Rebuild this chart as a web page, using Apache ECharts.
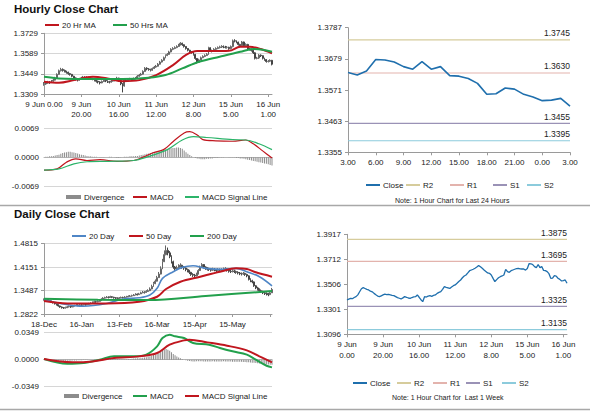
<!DOCTYPE html>
<html><head><meta charset="utf-8">
<script src="https://cdn.jsdelivr.net/npm/echarts@6/dist/echarts.min.js"></script>
<style>html,body{margin:0;padding:0;background:#fff}#c{width:600px;height:413px}</style>
</head><body><div id="c"></div>
<script>
// ---------- DATA ----------
// Hourly closes, 9 Jun 0.00 .. 16 Jun 3.00 (123 hours)
const hourlyClose = [
1.3378,1.3385,1.3391,1.3388,1.3398,1.3405,1.3420,1.3445,1.3470,1.3479,
1.3472,1.3465,1.3460,1.3450,1.3445,1.3432,1.3420,1.3410,1.3405,1.3412,
1.3419,1.3425,1.3422,1.3424,1.3420,1.3416,1.3413,1.3405,1.3397,1.3392,
1.3386,1.3395,1.3405,1.3400,1.3394,1.3391,1.3398,1.3403,1.3405,1.3419,
1.3400,1.3380,1.3364,1.3405,1.3402,1.3410,1.3413,1.3408,1.3415,1.3419,
1.3432,1.3440,1.3446,1.3465,1.3487,1.3482,1.3478,1.3473,1.3485,1.3495,
1.3501,1.3515,1.3530,1.3542,1.3560,1.3575,1.3583,1.3600,1.3618,1.3624,
1.3630,1.3638,1.3648,1.3660,1.3650,1.3638,1.3624,1.3612,1.3600,1.3597,
1.3583,1.3555,1.3528,1.3545,1.3560,1.3569,1.3575,1.3583,1.3629,1.3610,
1.3605,1.3618,1.3624,1.3630,1.3635,1.3638,1.3634,1.3632,
1.3632,1.3623,1.3637,1.3677,1.3675,1.3668,1.3652,1.3643,1.3669,1.3643,
1.3652,1.3621,1.3619,1.3611,1.3594,1.3556,1.3558,1.3578,1.3574,1.3556,
1.3547,1.3534,1.3536,1.3542,1.3515];
const hourlyHigh = [
1.3392,1.3394,1.3400,1.3399,1.3406,1.3414,1.3428,1.3452,1.3478,1.3490,
1.3486,1.3478,1.3470,1.3463,1.3455,1.3448,1.3435,1.3424,1.3415,1.3420,
1.3428,1.3434,1.3432,1.3433,1.3430,1.3425,1.3422,1.3416,1.3409,1.3402,
1.3397,1.3403,1.3412,1.3410,1.3404,1.3400,1.3406,1.3411,1.3414,1.3428,
1.3422,1.3404,1.3385,1.3412,1.3411,1.3418,1.3421,1.3418,1.3423,1.3427,
1.3440,1.3448,1.3455,1.3473,1.3495,1.3494,1.3488,1.3484,1.3492,1.3503,
1.3510,1.3523,1.3538,1.3550,1.3568,1.3583,1.3592,1.3608,1.3626,1.3633,
1.3639,1.3646,1.3656,1.3668,1.3664,1.3653,1.3640,1.3627,1.3615,1.3606,
1.3600,1.3586,1.3558,1.3553,1.3568,1.3577,1.3584,1.3592,1.3636,1.3632,
1.3616,1.3626,1.3632,1.3638,1.3643,1.3647,1.3645,1.3642,
1.3641,1.3636,1.3645,1.3686,1.3688,1.3680,1.3671,1.3657,1.3676,1.3672,
1.3660,1.3656,1.3628,1.3624,1.3614,1.3598,1.3566,1.3585,1.3583,1.3577,
1.3560,1.3550,1.3544,1.3549,1.3545];
const hourlyLow = [
1.3366,1.3372,1.3380,1.3379,1.3385,1.3394,1.3402,1.3418,1.3442,1.3465,
1.3464,1.3458,1.3450,1.3442,1.3436,1.3425,1.3412,1.3402,1.3396,1.3400,
1.3408,1.3415,1.3413,1.3414,1.3412,1.3408,1.3404,1.3396,1.3388,1.3382,
1.3375,1.3383,1.3392,1.3391,1.3385,1.3382,1.3388,1.3394,1.3396,1.3402,
1.3392,1.3370,1.3320,1.3360,1.3393,1.3398,1.3403,1.3400,1.3404,1.3409,
1.3416,1.3428,1.3435,1.3443,1.3462,1.3473,1.3470,1.3465,1.3470,1.3482,
1.3490,1.3498,1.3512,1.3527,1.3539,1.3556,1.3571,1.3580,1.3597,1.3612,
1.3619,1.3626,1.3634,1.3645,1.3642,1.3630,1.3616,1.3604,1.3592,1.3588,
1.3575,1.3546,1.3520,1.3525,1.3542,1.3557,1.3564,1.3572,1.3580,1.3602,
1.3597,1.3602,1.3613,1.3619,1.3624,1.3627,1.3626,1.3624,
1.3623,1.3615,1.3618,1.3632,1.3666,1.3660,1.3644,1.3635,1.3638,1.3635,
1.3637,1.3613,1.3610,1.3603,1.3586,1.3548,1.3549,1.3552,1.3565,1.3548,
1.3539,1.3526,1.3527,1.3530,1.3507];
const hourlyTickLabels = ['9 Jun 0.00','9 Jun\n20.00','10 Jun\n16.00','11 Jun\n12.00','12 Jun\n8.00','15 Jun\n5.00','16 Jun\n1.00'];
const weekTickLabels = ['9 Jun\n0.00','9 Jun\n20.00','10 Jun\n16.00','11 Jun\n12.00','12 Jun\n8.00','15 Jun\n5.00','16 Jun\n1.00'];
const last24Start = 98; // 15 Jun 3.00
const dayHourLabels = ['3.00','6.00','9.00','12.00','15.00','18.00','21.00','0.00','3.00'];

// moving averages / MACD as [hour index, value]
const hourlyMA20 = [[0,1.3394],[8,1.3387],[16,1.3405],[26,1.3428],[34,1.3417],[42,1.3398],[51,1.3405],[60,1.3440],[69,1.3509],[76,1.3579],[82,1.3606],[90,1.3606],[99,1.3608],[105,1.3636],[110,1.3636],[116,1.3620],[122,1.3590]];
const hourlyMA50 = [[0,1.3428],[8,1.3417],[24,1.3412],[42,1.3412],[56,1.3421],[65,1.3440],[74,1.3486],[83,1.3532],[94,1.3567],[105,1.3601],[112,1.3620],[117,1.3615],[122,1.3601]];
const hourlyMACD = [[0,-0.0031],[7,-0.0028],[12,-0.0012],[17,-0.0004],[23,-0.0008],[30,-0.0006],[39,-0.0010],[48,-0.0008],[53,0.0000],[58,0.0010],[64,0.0018],[69,0.0037],[75,0.0058],[78,0.0061],[82,0.0053],[85,0.0042],[92,0.0039],[101,0.0038],[108,0.0041],[112,0.0032],[117,0.0015],[122,-0.0002]];
const hourlySignal = [[0,-0.0031],[8,-0.0028],[16,-0.0016],[23,-0.0011],[35,-0.0010],[48,-0.0008],[55,0.0000],[66,0.0018],[74,0.0041],[80,0.0049],[87,0.0047],[101,0.0042],[108,0.0041],[115,0.0032],[122,0.0018]];
const hourlyDivergence = [
0.0000,0.0001,0.0001,0.0002,0.0002,0.0003,0.0004,0.0005,
0.0006,0.0008,0.0010,0.0011,0.0012,0.0013,0.0013,0.0012,0.0011,0.0010,0.0009,0.0007,0.0006,0.0005,0.0004,0.0003,
0.0002,0.0002,0.0001,0.0001,0.0001,0.0000,-0.0001,-0.0001,-0.0001,0.0000,0.0000,0.0001,0.0001,0.0000,-0.0001,-0.0002,-0.0002,-0.0001,0.0000,0.0001,0.0001,0.0001,0.0002,0.0002,0.0002,0.0003,0.0003,
0.0004,0.0005,0.0006,0.0007,0.0008,0.0009,0.0010,0.0011,0.0012,0.0013,0.0014,0.0015,0.0016,0.0017,0.0018,0.0019,0.0020,0.0021,0.0022,0.0022,0.0023,0.0023,0.0022,0.0020,0.0016,0.0012,
0.0008,0.0005,0.0002,0.0000,
-0.0002,-0.0003,-0.0004,-0.0005,-0.0005,-0.0005,-0.0004,-0.0004,-0.0003,-0.0003,-0.0002,-0.0002,-0.0002,-0.0001,-0.0001,-0.0001,0.0000,0.0000,-0.0001,-0.0001,-0.0001,
-0.0001,-0.0002,-0.0002,-0.0003,-0.0003,-0.0004,-0.0005,-0.0006,-0.0007,-0.0008,-0.0009,-0.0010,-0.0011,-0.0012,-0.0013,-0.0014,-0.0015,-0.0016,-0.0017,-0.0019,-0.0020];

// Daily closes, 18 Dec .. 16 Jun (128 days)
const dailyClose = [
1.3225,1.3238,1.3210,1.3195,1.3170,1.3140,1.3110,1.3085,1.3050,1.3020,
1.3000,1.2990,1.3000,1.3025,1.3035,1.3020,1.3040,1.3060,1.3075,1.3065,
1.3080,1.3070,1.3085,1.3080,1.3095,1.3110,1.3125,1.3150,1.3170,1.3165,
1.3180,1.3200,1.3240,1.3270,1.3285,1.3300,1.3290,1.3310,1.3295,1.3280,
1.3270,1.3265,1.3275,1.3290,1.3285,1.3300,1.3310,1.3320,1.3330,1.3340,
1.3360,1.3380,1.3370,1.3390,1.3420,1.3440,1.3430,1.3460,1.3480,1.3530,
1.3600,1.3680,1.3750,1.3850,1.3950,1.4100,1.4300,1.4500,1.4620,1.4550,
1.4450,1.4300,1.4150,1.4100,1.4130,1.4180,1.4200,1.4150,1.4120,1.4080,
1.4050,1.4000,1.3940,1.3920,1.3900,1.3950,1.4050,1.4150,1.4220,1.4150,
1.4110,1.4090,1.4080,1.4060,1.4090,1.4070,1.4050,1.4080,1.4060,1.4070,
1.4090,1.4100,1.4060,1.4030,1.4020,1.4040,1.4020,1.4000,1.3980,1.3960,
1.3950,1.3970,1.3940,1.3900,1.3800,1.3760,1.3730,1.3620,1.3560,1.3520,
1.3480,1.3460,1.3420,1.3400,1.3390,1.3370,1.3420,1.3514];
const dailyHigh = [
1.3262,1.3265,1.3245,1.3225,1.3208,1.3180,1.3150,1.3120,1.3095,1.3060,
1.3035,1.3020,1.3030,1.3050,1.3062,1.3052,1.3068,1.3085,1.3100,1.3095,
1.3105,1.3100,1.3112,1.3108,1.3120,1.3138,1.3152,1.3178,1.3198,1.3195,
1.3210,1.3230,1.3268,1.3298,1.3312,1.3330,1.3320,1.3338,1.3325,1.3310,
1.3298,1.3292,1.3300,1.3315,1.3312,1.3326,1.3336,1.3348,1.3358,1.3368,
1.3388,1.3410,1.3402,1.3420,1.3452,1.3472,1.3465,1.3495,1.3520,1.3575,
1.3650,1.3730,1.3800,1.3900,1.4010,1.4170,1.4380,1.4620,1.4760,1.4700,
1.4600,1.4480,1.4330,1.4180,1.4190,1.4230,1.4255,1.4215,1.4180,1.4140,
1.4105,1.4070,1.4015,1.3975,1.3955,1.3990,1.4090,1.4190,1.4260,1.4235,
1.4170,1.4145,1.4130,1.4110,1.4130,1.4120,1.4100,1.4120,1.4110,1.4115,
1.4135,1.4145,1.4120,1.4085,1.4065,1.4080,1.4070,1.4050,1.4030,1.4010,
1.3995,1.4010,1.3990,1.3960,1.3915,1.3830,1.3790,1.3745,1.3640,1.3590,
1.3545,1.3515,1.3480,1.3450,1.3435,1.3420,1.3465,1.3560];
const dailyLow = [
1.3200,1.3205,1.3190,1.3172,1.3150,1.3118,1.3090,1.3062,1.3030,1.2998,
1.2975,1.2965,1.2972,1.2990,1.3005,1.2995,1.3012,1.3030,1.3048,1.3040,
1.3052,1.3045,1.3058,1.3055,1.3068,1.3082,1.3098,1.3115,1.3140,1.3138,
1.3150,1.3168,1.3195,1.3230,1.3255,1.3268,1.3262,1.3280,1.3270,1.3255,
1.3245,1.3240,1.3248,1.3262,1.3260,1.3272,1.3285,1.3295,1.3304,1.3312,
1.3330,1.3350,1.3345,1.3360,1.3385,1.3410,1.3400,1.3425,1.3445,1.3470,
1.3520,1.3590,1.3665,1.3740,1.3840,1.3940,1.4090,1.4290,1.4480,1.4480,
1.4400,1.4250,1.4100,1.4040,1.4070,1.4110,1.4140,1.4100,1.4070,1.4030,
1.4000,1.3950,1.3900,1.3870,1.3855,1.3885,1.3940,1.4040,1.4130,1.4110,
1.4070,1.4050,1.4040,1.4020,1.4040,1.4030,1.4010,1.4030,1.4020,1.4025,
1.4040,1.4055,1.4020,1.3990,1.3980,1.3995,1.3980,1.3960,1.3940,1.3920,
1.3910,1.3925,1.3900,1.3860,1.3770,1.3720,1.3690,1.3590,1.3525,1.3485,
1.3445,1.3420,1.3385,1.3360,1.3345,1.3325,1.3355,1.3420];
const dailyTickLabels = ['18-Dec','16-Jan','13-Feb','16-Mar','15-Apr','15-May'];
const dailyMA20 = [[0,1.3232],[9,1.3122],[22,1.3042],[35,1.3120],[44,1.3245],[53,1.3280],[59,1.3358],[63,1.3547],[66,1.3830],[72,1.4018],[77,1.4140],[83,1.4188],[90,1.4112],[100,1.4084],[107,1.4112],[113,1.4018],[120,1.3877],[127,1.3620]];
const dailyMA50 = [[0,1.3188],[13,1.3122],[35,1.3122],[53,1.3170],[63,1.3310],[68,1.3528],[76,1.3735],[87,1.3877],[98,1.4018],[107,1.4112],[113,1.4094],[118,1.4000],[127,1.3877]];
const dailyMA200 = [[0,1.3250],[30,1.3225],[58,1.3215],[90,1.3330],[127,1.3470]];
const dailyMACD = [[0,0.0009],[13,-0.0052],[22,-0.0043],[31,0.0000],[39,0.0043],[50,0.0043],[57,0.0065],[63,0.0172],[66,0.0280],[70,0.0323],[73,0.0302],[78,0.0280],[83,0.0216],[92,0.0194],[98,0.0151],[105,0.0108],[113,0.0065],[118,0.0000],[124,-0.0078],[127,-0.0099]];
const dailySignal = [[0,0.0009],[16,-0.0034],[27,-0.0022],[39,0.0022],[53,0.0043],[63,0.0086],[70,0.0194],[78,0.0250],[81,0.0259],[91,0.0224],[102,0.0181],[113,0.0121],[120,0.0043],[127,-0.0034]];
const dailyDivergence = [
0.0000,-0.0002,-0.0004,-0.0006,-0.0008,-0.0010,-0.0012,-0.0013,-0.0014,-0.0015,
-0.0016,-0.0016,-0.0015,-0.0014,-0.0013,-0.0012,-0.0011,-0.0010,-0.0009,-0.0008,
-0.0007,-0.0006,-0.0005,-0.0004,-0.0003,-0.0002,-0.0001,0.0000,0.0002,0.0004,
0.0006,0.0008,0.0010,0.0012,0.0014,0.0015,0.0015,0.0014,0.0013,0.0012,
0.0010,0.0008,0.0006,0.0005,0.0005,0.0006,0.0007,0.0008,0.0010,0.0012,
0.0014,0.0016,0.0018,0.0020,0.0022,0.0025,0.0028,0.0032,0.0040,0.0045,
0.0050,0.0060,0.0072,0.0085,0.0098,0.0110,0.0122,0.0132,0.0138,0.0130,
0.0115,0.0095,0.0075,0.0058,0.0042,0.0030,0.0018,0.0008,0.0000,-0.0008,
-0.0014,-0.0018,-0.0020,-0.0022,-0.0022,-0.0021,-0.0020,-0.0020,-0.0021,-0.0022,
-0.0022,-0.0023,-0.0023,-0.0022,-0.0021,-0.0022,-0.0023,-0.0023,-0.0022,-0.0022,
-0.0021,-0.0022,-0.0023,-0.0024,-0.0024,-0.0025,-0.0025,-0.0026,-0.0026,-0.0027,
-0.0028,-0.0029,-0.0030,-0.0032,-0.0034,-0.0036,-0.0038,-0.0041,-0.0044,-0.0047,
-0.0050,-0.0053,-0.0056,-0.0058,-0.0060,-0.0062,-0.0064,-0.0065];

// support / resistance levels
const levelNames = ['R2','R1','S1','S2'];
const dayLevels = [1.3745,1.3630,1.3455,1.3395];
const weekLevels = [1.3875,1.3695,1.3325,1.3135];

// axis tick labels
const hourPriceTicks = ['1.3309','1.3449','1.3589','1.3729'];
const hourMacdTicks = ['-0.0069','0.0000','0.0069'];
const dayPriceTicks = ['1.3355','1.3463','1.3571','1.3679','1.3787'];
const dailyPriceTicks = ['1.2822','1.3487','1.4151','1.4815'];
const dailyMacdTicks = ['-0.0349','0.0000','0.0349'];
const weekPriceTicks = ['1.3096','1.3301','1.3506','1.3712','1.3917'];

// ---------- STYLE / LAYOUT ----------
const FONT = '"Liberation Sans", Arial, sans-serif';
const TXT = '#222';
const RED = '#c0161e', GREEN = '#22a04c', GREEN2 = '#2cb46a', BLUE = '#4f86c6', CLOSE = '#1f6fad', GREY = '#9a9a9a';
const levelColors = ['#d6cc9c','#e3b3ad','#9a92b6','#8ccbdc'];
const legendText = {
  hMA20:'20 Hr MA', hMA50:'50 Hrs MA', hDiv:'Divergence', hMACD:'MACD', hSig:'MACD Signal Line',
  dClose:'Close', dR2:'R2', dR1:'R1', dS1:'S1', dS2:'S2',
  w20:'20 Day', w50:'50 Day', w200:'200 Day', wDiv:'Divergence', wMACD:'MACD', wSig:'MACD Signal Line',
  kClose:'Close', kR2:'R2', kR1:'R1', kS1:'S1', kS2:'S2'
};
const legendPos = [
  ['hMA20',45,26],['hMA50',113,26],
  ['hDiv',66,198],['hMACD',133,198],['hSig',185,198],
  ['dClose',366,186],['dR2',406,186],['dR1',450,186],['dS1',493,186],['dS2',527,186],
  ['w20',72,237],['w50',129,237],['w200',190,237],
  ['wDiv',64,397],['wMACD',133,397],['wSig',185,397],
  ['kClose',353,384],['kR2',397,384],['kR1',433,384],['kS1',466,384],['kS2',502,384]
];

const idx = n => Array.from({length:n}, (_, i) => String(i));
const pick = (labels, min, step) => v => labels[Math.round((v - min) / step)] ?? '';
const ohlc = (close, high, low) => close.map((c, i) => {
  const o = i ? close[i - 1] : c;
  return [o, c, Math.min(low[i], o, c), Math.max(high[i], o, c)];
});

const lab = {fontSize: 8, color: TXT, fontFamily: FONT};
function catAxis(grid, n, every, labels, show) {
  return {
    type: 'category', gridIndex: grid, data: idx(n), boundaryGap: false,
    axisLine: {show: true, lineStyle: {color: show ? GREY : '#b5b5b5', width: 1}},
    axisTick: {show: show, interval: every - 1, length: 3, lineStyle: {color: GREY}},
    axisLabel: show ? Object.assign({interval: every - 1, margin: 5, lineHeight: 10.5,
      formatter: (v, i) => labels[i / every] ?? ''}, lab) : {show: false},
    splitLine: {show: false}
  };
}
function valAxis(grid, labels, min, max, split, line) {
  const step = (max - min) / (labels.length - 1);
  return {
    type: 'value', gridIndex: grid, min: min, max: max, interval: step, scale: true,
    axisLine: {show: line, lineStyle: {color: GREY}},
    axisTick: {show: line, length: 3, lineStyle: {color: GREY}},
    axisLabel: Object.assign({margin: line ? 6 : 5, formatter: pick(labels, min, step)}, lab),
    splitLine: {show: split, lineStyle: {color: '#d6d6d6', width: 1}}
  };
}
function lineS(name, x, y, data, color, width, smooth) {
  return {name, type: 'line', xAxisIndex: x, yAxisIndex: y, data, symbol: 'none', smooth: smooth ? 0.35 : false,
    lineStyle: {color, width}, itemStyle: {color}, silent: true, z: 3};
}
function candleS(name, x, y, data, w) {
  return {name, type: 'candlestick', xAxisIndex: x, yAxisIndex: y, data, barWidth: w, silent: true,
    itemStyle: {color: '#777', color0: '#555', borderColor: '#666', borderColor0: '#444', borderWidth: 1}};
}
function barS(name, x, y, data) {
  return {name, type: 'bar', xAxisIndex: x, yAxisIndex: y, data, barWidth: 1, silent: true,
    itemStyle: {color: '#8c8c8c'}};
}
function levelS(prefix, x, y, lastIdx) {
  return levelNames.map((n, k) => ({
    name: prefix + n, type: 'line', xAxisIndex: x, yAxisIndex: y, silent: true,
    symbol: 'circle', symbolSize: 0, showSymbol: true,
    lineStyle: {color: levelColors[k], width: 1.2}, itemStyle: {color: levelColors[k]}, z: 2,
    data: [[0, (prefix === 'd' ? dayLevels : weekLevels)[k]],
      {value: [lastIdx, (prefix === 'd' ? dayLevels : weekLevels)[k]],
       label: {show: true, position: 'top', align: 'right', distance: 2,
         formatter: (prefix === 'd' ? dayLevels : weekLevels)[k].toFixed(4),
         fontSize: 8.5, color: TXT, fontFamily: FONT}}]
  }));
}

const nH = hourlyClose.length, nD = dailyClose.length, n24 = nH - last24Start;

const option = {
  animation: false,
  backgroundColor: '#fff',
  grid: [
    {left: 44, top: 33.3, width: 228, height: 60.7},
    {left: 44, top: 128.3, width: 228, height: 57.7},
    {left: 348, top: 27.7, width: 222, height: 124.6},
    {left: 44, top: 243.5, width: 228, height: 70.5},
    {left: 44, top: 332.7, width: 228, height: 54},
    {left: 347, top: 234.3, width: 220, height: 100}
  ],
  xAxis: [
    catAxis(0, nH, 20, hourlyTickLabels, true),
    catAxis(1, nH, 20, [], false),
    catAxis(2, n24, 3, dayHourLabels, true),
    catAxis(3, nD, 21, dailyTickLabels, true),
    catAxis(4, nD, 21, [], false),
    catAxis(5, nH, 20, weekTickLabels, true)
  ],
  yAxis: [
    valAxis(0, hourPriceTicks, 1.3309, 1.3729, true, true),
    valAxis(1, hourMacdTicks, -0.0069, 0.0069, true, false),
    valAxis(2, dayPriceTicks, 1.3355, 1.3787, false, true),
    valAxis(3, dailyPriceTicks, 1.2822, 1.4815, true, true),
    valAxis(4, dailyMacdTicks, -0.0349, 0.0349, true, false),
    valAxis(5, weekPriceTicks, 1.3096, 1.3917, false, true)
  ],
  legend: legendPos.map(([name, x, y]) => ({
    left: x, top: y - 5, padding: 0, itemGap: 0, selectedMode: false,
    itemWidth: name.endsWith('Div') ? 15 : 14, itemHeight: name.endsWith('Div') ? 4 : 2, icon: 'rect',
    data: [name], formatter: nm => legendText[nm],
    textStyle: {fontSize: 8, color: TXT, fontFamily: FONT, padding: [0, 0, 0, -2]}
  })),
  series: [
    candleS('hCandle', 0, 0, ohlc(hourlyClose, hourlyHigh, hourlyLow), 1.4),
    lineS('hMA20', 0, 0, hourlyMA20, RED, 2, true),
    lineS('hMA50', 0, 0, hourlyMA50, GREEN, 2, true),
    barS('hDiv', 1, 1, hourlyDivergence),
    lineS('hMACD', 1, 1, hourlyMACD, RED, 1.2, true),
    lineS('hSig', 1, 1, hourlySignal, GREEN2, 1.2, true),
    Object.assign(lineS('dClose', 2, 2, hourlyClose.slice(last24Start), CLOSE, 1.6, false), {z: 5}),
    ...levelS('d', 2, 2, n24 - 1),
    candleS('wCandle', 3, 3, ohlc(dailyClose, dailyHigh, dailyLow), 1.4),
    lineS('w20', 3, 3, dailyMA20, BLUE, 1.6, true),
    lineS('w50', 3, 3, dailyMA50, RED, 2, true),
    lineS('w200', 3, 3, dailyMA200, GREEN, 2, true),
    barS('wDiv', 4, 4, dailyDivergence),
    lineS('wMACD', 4, 4, dailyMACD, GREEN, 2, true),
    lineS('wSig', 4, 4, dailySignal, RED, 2, true),
    Object.assign(lineS('kClose', 5, 5, hourlyClose, CLOSE, 1.3, false), {z: 5}),
    ...levelS('k', 5, 5, nH - 1)
  ],
  graphic: [
    {type: 'text', left: 14, top: 3, style: {text: 'Hourly Close Chart', font: 'bold 11.5px ' + FONT, fill: '#111'}},
    {type: 'text', left: 14, top: 208, style: {text: 'Daily Close Chart', font: 'bold 11.5px ' + FONT, fill: '#111'}},
    {type: 'text', left: 395, top: 197, style: {text: 'Note: 1 Hour Chart for Last 24 Hours', font: '7px ' + FONT, fill: TXT}},
    {type: 'text', left: 392, top: 394, style: {text: 'Note: 1 Hour Chart for  Last 1 Week', font: '7px ' + FONT, fill: TXT}},
    {type: 'line', shape: {x1: 0, y1: 205.5, x2: 590, y2: 205.5}, style: {stroke: '#a8a8a8', lineWidth: 1.5}},
    {type: 'line', shape: {x1: 0, y1: 409.5, x2: 590, y2: 409.5}, style: {stroke: '#a8a8a8', lineWidth: 1.5}}
  ]
};
const chart = echarts.init(document.getElementById('c'), null, {renderer: 'svg'});
chart.setOption(option);
</script></body></html>
